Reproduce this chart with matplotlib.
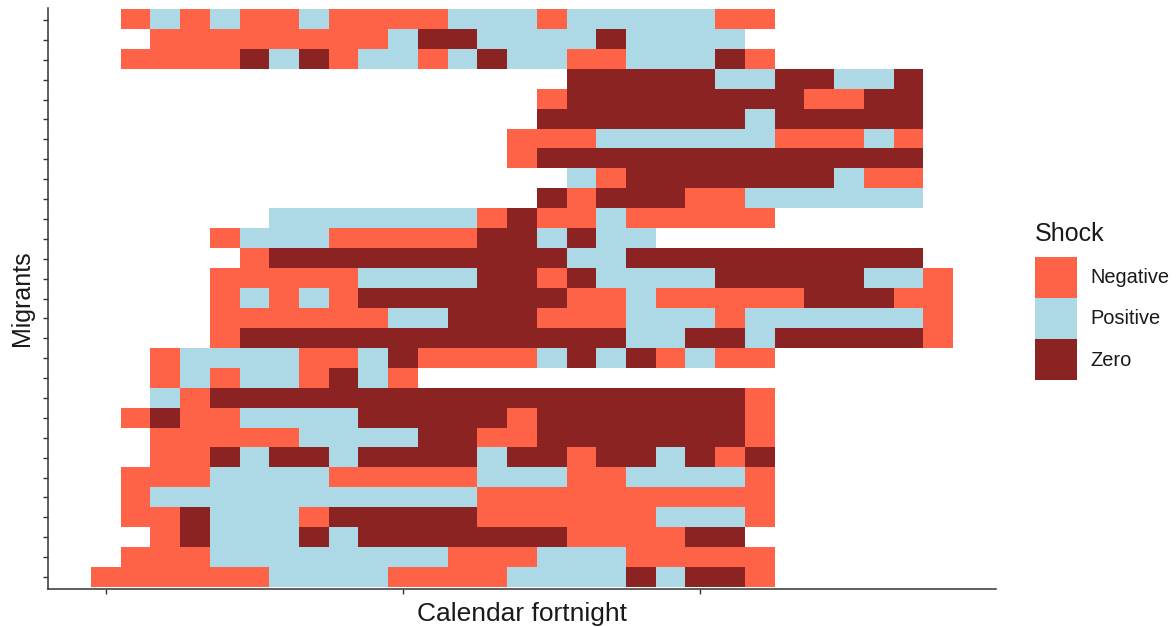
import numpy as np
import matplotlib
matplotlib.use("Agg")
import matplotlib.pyplot as plt
from matplotlib.colors import ListedColormap
from matplotlib.patches import Patch

plt.rcParams['font.family'] = ['Liberation Sans', 'DejaVu Sans']

# shock categories and their colours
categories = ["Negative", "Positive", "Zero"]
codes = {"N": 0, "P": 1, "Z": 2}
colors = ["#FF6347", "#ADD8E6", "#8B2323"]

# one string per migrant (top to bottom), one char per calendar fortnight
# '.' = no observation
shocks = [
    ".NPNPNNPNNNNPPPNPPPPPNN......",
    "..NNNNNNNNPZZPPPPZPPPP.......",
    ".NNNNZPZNPPNPZPPNNPPPZN......",
    "................ZZZZZPPZZPPZ.",
    "...............NZZZZZZZZNNZZ.",
    "...............ZZZZZZZPZZZZZ.",
    "..............NNNPPPPPPNNNPN.",
    "..............NZZZZZZZZZZZZZ.",
    "................PNZZZZZZZPNN.",
    "...............ZNZZZNNPPPPPP.",
    "......PPPPPPPNZNNPNNNNN......",
    "....NPPPNNNNNZZPZPP..........",
    ".....NZZZZZZZZZZPPZZZZZZZZZZ.",
    "....NNNNNPPPPZZNZPPPPZZZZZPPN",
    "....NPNPNZZZZZZZNNPNNNNNZZZNN",
    "....NNNNNNPPZZZNNNPPPNPPPPPPN",
    "....NZZZZZZZZZZZZZPPZZPZZZZZN",
    "..NPPPPNNPZNNNNPZPZNPNN......",
    "..NPNPPNZPN..................",
    "..PNZZZZZZZZZZZZZZZZZZN......",
    ".NZNNPPPPZZZZZNZZZZZZZN......",
    "..NNNNNPPPPZZNNZZZZZZZN......",
    "..NNZPZZPZZZZPZZNZZPZNZ......",
    ".NNNPPPPNNNNNPPPNNPPPPN......",
    ".NPPPPPPPPPPPNNNNNNNNNN......",
    ".NNZPPPNZZZZZNNNNNNPPPN......",
    "..NZPPPZPZZZZZZZNNNNZZ.......",
    ".NNNPPPPPPPPNNNPPPNNNNN......",
    "NNNNNNPPPPNNNNPPPPZPZZN......",
]

grid = np.array([[codes.get(ch, np.nan) for ch in row] for row in shocks], dtype=float)
n_rows, n_cols = grid.shape
x_ticks = [0, 10, 20]

fig = plt.figure(figsize=(11.76, 6.27), dpi=100)
ax = fig.add_axes([48/1176, 1-589/627, (996-48)/1176, (589-8)/627])

ax.imshow(np.ma.masked_invalid(grid), cmap=ListedColormap(colors), vmin=-0.5, vmax=2.5,
          aspect="auto", interpolation="nearest")

ax.set_xlim(-0.5-1.45, n_cols-0.5+1.45)
ax.set_ylim(n_rows-0.5+0.1, -0.5-0.1)

ax.set_xticks(x_ticks)
ax.set_xticklabels([])
ax.set_yticks(range(n_rows))
ax.set_yticklabels([])
ax.tick_params(colors="#333333", length=3.8, width=1)

for s in ["top", "right"]:
    ax.spines[s].set_visible(False)
for s in ["left", "bottom"]:
    ax.spines[s].set_color("#333333")
    ax.spines[s].set_linewidth(1.1)

ax.set_xlabel("Calendar fortnight", fontsize=19, color="#1a1a1a", labelpad=2)
ax.set_ylabel("Migrants", fontsize=18, color="#1a1a1a", labelpad=3)

# legend title drawn separately so it sits a bit above the keys
fig.text(1035/1176, 1-241/627, "Shock", fontsize=18, color="#1a1a1a",
         ha="left", va="baseline")
handles = [Patch(facecolor=c, edgecolor="none") for c in colors]
leg = fig.legend(handles, categories, loc="center left",
                 bbox_to_anchor=(1035/1176, 1-318.5/627), frameon=False,
                 fontsize=14.4, borderpad=0, borderaxespad=0,
                 handlelength=2.1, handleheight=2.78, labelspacing=0,
                 handletextpad=0.65)
for t in leg.get_texts():
    t.set_color("#1a1a1a")

fig.savefig("out.png", dpi=100)
